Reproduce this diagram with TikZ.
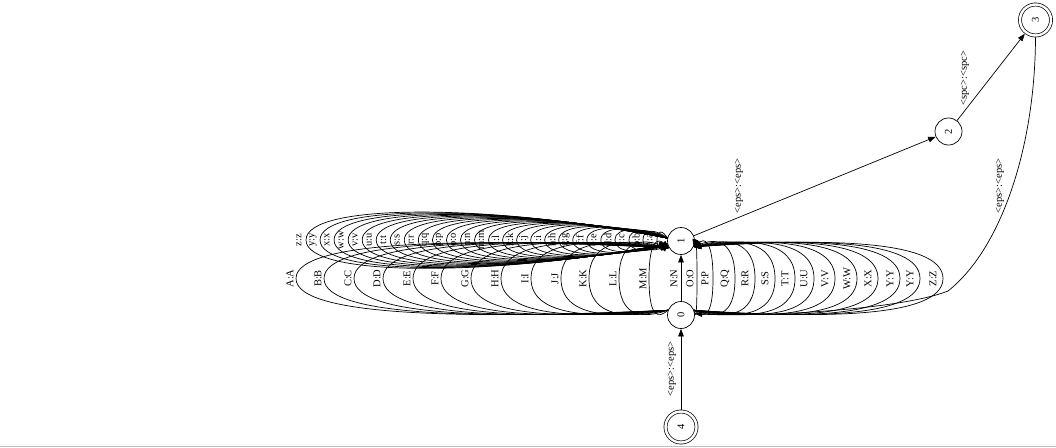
\documentclass[tikz,border=0pt]{standalone}
\usepackage{graphicx}
\usepackage{fontspec}
\setmainfont{Liberation Serif}
\usetikzlibrary{arrows.meta}
\begin{document}
\begin{tikzpicture}[x=1pt,y=-1pt,
  every node/.style={font=\fontsize{10.5}{10.5}\selectfont},
  st/.style={circle,draw,line width=0.7pt,minimum size=27pt,inner sep=0pt},
  fin/.style={circle,draw,line width=0.7pt,double,double distance=2.4pt,minimum size=31pt,inner sep=0pt,outer sep=1.9pt},
  lab/.style={rotate=90,inner sep=0pt},
  edge/.style={line width=0.7pt,-{Triangle[length=7.5pt,width=5.5pt]}}]
\useasboundingbox (0,0) rectangle (1056,447);
\draw[gray!50,line width=0.8pt] (0,446.5) -- (1056,446.5);
% states
\node[fin] (n4) at (681,427) {\rotatebox{90}{4}};
\node[st]  (n0) at (681,315) {\rotatebox{90}{0}};
\node[st]  (n1) at (681,241) {\rotatebox{90}{1}};
\node[st]  (n2) at (948.5,131.5) {\rotatebox{90}{2}};
\node[fin] (n3) at (1035.5,20) {\rotatebox{90}{3}};
% simple edges
\draw[edge] (n4) -- (n0);
\node[lab] (e40) at (672,369) {<eps>:<eps>};
\draw[edge] (n1) -- (n2);
\node[lab] (e12) at (739,186) {<eps>:<eps>};
\draw[edge] (n2) -- (n3);
\node[lab] (e23) at (965,78) {<spc>:<spc>};
\draw[edge] (n3.270) .. controls (1035,150) and (1000,250) .. (948,291) .. controls (900,310) and (760,317) .. (n0.5);
\node[lab] (e30) at (1000,186) {<eps>:<eps>};
% self loops on 1
\foreach \ch [count=\k from 0] in {a,b,c,d,e,f,g,h,i,j,k,l,m,n,o,p,q,r,s,t,u,v,w,x,y,z}{
  \pgfmathsetmacro\lx{650-14.04*\k}
  \pgfmathsetmacro\ex{\lx+7}
  \pgfmathsetmacro\hh{8+0.8*\k}
  \pgfmathsetmacro\hc{(\hh-0.3)/0.75}
  \pgfmathsetmacro\mx{\ex+0.5*(668-\ex)}
  \pgfmathsetmacro\yt{240-\hc}
  \pgfmathsetmacro\yb{240+\hc}
  \draw[edge] (n1.168) .. controls (\mx,\yt) and (\ex,\yt) .. (\ex,240) .. controls (\ex,\yb) and (\mx,\yb) .. (n1.192);
  \node[lab] (lc\k) at (\lx,240) {\ch:\ch};
}
% 0 -> 1, left side
\foreach \ch/\lx [count=\k] in {A/290,B/318,C/348,D/377,E/407,F/435,G/465,H/495,I/525,J/555,K/583,L/613,M/643}{
  \pgfmathsetmacro\ex{\lx+6}
  \pgfmathsetmacro\mx{\ex+0.5*(668-\ex)}
  \draw[edge] (n0.160) .. controls (\mx,318.5) and (\ex,318.5) .. (\ex,278.5) .. controls (\ex,238.5) and (\mx,238.5) .. (n1.210);
  \node[lab] (ul\k) at (\lx,278.5) {\ch:\ch};
}
% 0 -> 1, straight
\draw[edge] (n0) -- (n1);
\node[lab] (un) at (674,278.5) {N:N};
% 0 -> 1, right side
\foreach \ch/\lx/\ex [count=\k] in {O/690/697,P/705/713,Q/725/735,R/745/755,S/765/775,T/785/795,U/804/814,V/825/835,W/847/857,X/868/878,Y/890/900,Y/910/920,Z/933/943}{
  \pgfmathsetmacro\mx{694+0.5*(\ex-694)}
  \draw[edge] (n0.20) .. controls (\mx,318.5) and (\ex,318.5) .. (\ex,278.5) .. controls (\ex,238.5) and (\mx,238.5) .. (n1.335);
  \node[lab] (ur\k) at (\lx,278.5) {\ch:\ch};
}
\end{tikzpicture}
\end{document}
